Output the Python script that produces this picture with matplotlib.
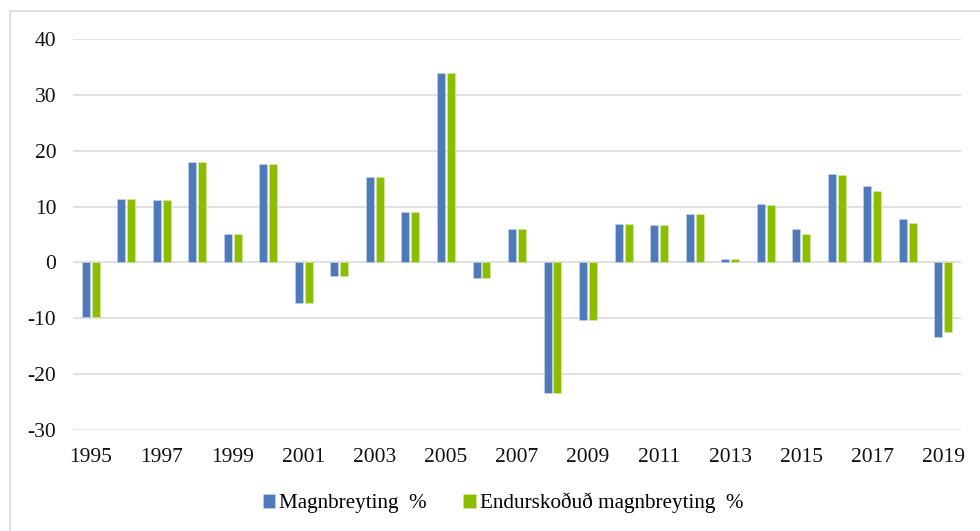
import numpy as np
import matplotlib
matplotlib.use("Agg")
import matplotlib.pyplot as plt
from matplotlib.patches import Rectangle

plt.rcParams['font.family'] = ['Liberation Serif', 'DejaVu Serif']
plt.rcParams['axes.unicode_minus'] = False

years = list(range(1995, 2020))
magn = [-9.7, 11.3, 11.2, 17.9, 5.1, 17.6, -7.3, -2.5, 15.3, 9.0, 34.0, -2.7, 5.9,
        -23.4, -10.3, 6.9, 6.7, 8.6, 0.7, 10.5, 6.0, 15.9, 13.6, 7.8, -13.3]
endursk = [-9.7, 11.3, 11.2, 17.9, 5.1, 17.6, -7.3, -2.5, 15.3, 9.0, 34.0, -2.7, 5.9,
           -23.4, -10.3, 6.9, 6.7, 8.6, 0.6, 10.3, 5.1, 15.6, 12.7, 7.0, -12.4]
labels = ["Magnbreyting  %", "Endurskoðuð magnbreyting  %"]

blue = '#4F7AB9'
green = '#8CBE00'

W, H = 980, 531
fig = plt.figure(figsize=(W / 100, H / 100), dpi=100)
ax = fig.add_axes([73 / W, 1 - 430 / H, (961 - 73) / W, (430 - 39) / H])

x = np.arange(len(years))
bw = 0.225
off = 0.14
ax.bar(x - off, magn, bw, color=blue, edgecolor='#C9D6EA', linewidth=0.4, label=labels[0], zorder=3)
ax.bar(x + off, endursk, bw, color=green, edgecolor='#D8EBA8', linewidth=0.4, label=labels[1], zorder=3)

ax.set_xlim(-0.5, len(years) - 0.5)
ax.set_ylim(-30, 40)
ax.set_yticks(range(-30, 41, 10))
ax.set_xticks(x[::2])
ax.set_xticklabels([str(y) for y in years[::2]])
ax.grid(axis='y', color='#D9D9D9', linewidth=1.1, zorder=0)
ax.tick_params(length=0, labelsize=15.5, colors='#111111')
ax.tick_params(axis='y', pad=12)
ax.tick_params(axis='x', pad=13)
for s in ax.spines.values():
    s.set_visible(False)

fig.legend(loc='center', bbox_to_anchor=(503 / W, 1 - 503 / H), ncol=2, frameon=False,
           fontsize=15.2, handlelength=0.6, handleheight=0.6, handletextpad=0.2,
           columnspacing=1.7)

# chart border (cropped on right and bottom)
fig.patches.append(Rectangle((9.5 / W, -0.1), 1.2, 1 - 10.5 / H + 0.1,
                             transform=fig.transFigure, fill=False,
                             edgecolor='#D9D9D9', linewidth=1.2))

fig.savefig('out.png', dpi=100)
